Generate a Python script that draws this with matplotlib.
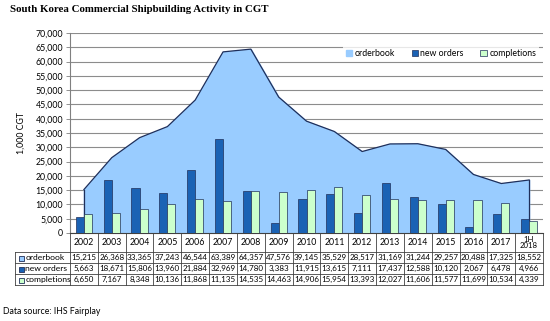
import matplotlib.pyplot as plt
import matplotlib.transforms as mtransforms
import numpy as np

years = ["2002", "2003", "2004", "2005", "2006", "2007", "2008", "2009", "2010",
         "2011", "2012", "2013", "2014", "2015", "2016", "2017", "1H\n2018"]
orderbook = [15215, 26368, 33365, 37243, 46544, 63389, 64357, 47576, 39145,
             35529, 28517, 31169, 31244, 29257, 20488, 17325, 18552]
new_orders = [5663, 18671, 15806, 13960, 21884, 32969, 14780, 3383, 11915,
              13615, 7111, 17437, 12588, 10120, 2067, 6478, 4966]
completions = [6650, 7167, 8348, 10136, 11868, 11135, 14535, 14463, 14906,
               15954, 13393, 12027, 11606, 11577, 11699, 10534, 4339]

row_names = ["orderbook", "new orders", "completions"]
c_area = "#99ccff"
c_new = "#1a62b4"
c_comp = "#ccffcc"
edge = "#1f2f5a"
font = ["Lato", "DejaVu Sans"]
plt.rcParams["font.family"] = font

fig = plt.figure(figsize=(5.5, 3.21), dpi=100)
ax = fig.add_axes([70 / 550, 1 - 233 / 321, 473 / 550, 200 / 321])

x = np.arange(len(years))
bw = 0.29
ax.fill_between(x, orderbook, color=c_area, zorder=2, label=row_names[0])
ax.plot(x, orderbook, color=edge, lw=0.9, zorder=3)
ax.plot([x[0], x[0]], [0, orderbook[0]], color=edge, lw=0.9, zorder=3)
ax.plot([x[-1], x[-1]], [0, orderbook[-1]], color=edge, lw=0.9, zorder=3)
ax.bar(x - bw / 2, new_orders, bw, color=c_new, edgecolor=edge, lw=0.5, zorder=4, label=row_names[1])
ax.bar(x + bw / 2, completions, bw, color=c_comp, edgecolor=edge, lw=0.5, zorder=4, label=row_names[2])

ax.set_xlim(-0.5, len(years) - 0.5)
ax.set_ylim(0, 70000)
ax.set_yticks(range(0, 70001, 5000))
ax.set_yticklabels([f"{v:,}" for v in range(0, 70001, 5000)], fontsize=6.3)
ax.set_xticks([])
ax.yaxis.grid(True, color="#8c8c8c", lw=0.8, zorder=0)
ax.set_axisbelow(True)
for s in ["top", "right"]:
    ax.spines[s].set_visible(False)
ax.spines["left"].set_color("#808080")
ax.spines["bottom"].set_color("#404040")
ax.tick_params(axis="y", length=3, width=0.6, color="#808080", pad=2)

ax.set_ylabel("1,000 CGT", fontsize=6.3, labelpad=7)

leg = ax.legend(loc="upper right", bbox_to_anchor=(1.0, 0.955), ncol=3, fontsize=6.3,
                frameon=True, fancybox=False, handlelength=0.7, handleheight=0.7,
                handletextpad=0.3, columnspacing=1.9, borderpad=0.3)
leg.get_frame().set_edgecolor("none")
leg.get_frame().set_facecolor("white")
leg.set_zorder(5)

# data table under the axis
tr = mtransforms.blended_transform_factory(ax.transData, ax.transAxes)
ys = [(233 - p) / 200 for p in (233, 252, 263, 274, 285)]
xl = (15 - 70) / 473
lc = "#404040"
for i in range(len(years) + 1):
    ax.plot([i - 0.5, i - 0.5], [ys[0], ys[-1]], transform=tr, color=lc, lw=0.6, clip_on=False)
ax.plot([xl, xl], [ys[1], ys[-1]], transform=ax.transAxes, color=lc, lw=0.6, clip_on=False)
for yv in ys[1:]:
    ax.plot([xl, 1], [yv, yv], transform=ax.transAxes, color=lc, lw=0.6, clip_on=False)

for i, yr in enumerate(years):
    ax.text(i, (ys[0] + ys[1]) / 2, yr, transform=tr, ha="center", va="center",
            fontsize=6.3 if "\n" not in yr else 5.6, linespacing=0.95)

rows = [orderbook, new_orders, completions]
colors = [c_area, c_new, c_comp]
for r, (name, vals, col) in enumerate(zip(row_names, rows, colors)):
    yc = (ys[r + 1] + ys[r + 2]) / 2
    ax.plot([xl + 0.012], [yc], transform=ax.transAxes, marker="s", ms=3.6, color=col,
            mec=edge, mew=0.6, clip_on=False)
    ax.text(xl + 0.022, yc, name, transform=ax.transAxes, ha="left", va="center", fontsize=6.1)
    for i, v in enumerate(vals):
        ax.text(i, yc, f"{v:,}", transform=tr, ha="center", va="center", fontsize=5.8)

fig.text(10 / 550, 1 - 10 / 321, "South Korea Commercial Shipbuilding Activity in CGT",
         fontsize=7.8, fontweight="bold", family="Liberation Serif", va="center")
fig.text(3 / 550, 1 - 312 / 321, "Data source: IHS Fairplay", fontsize=6.3, va="center")

fig.savefig("out.png", dpi=100)
